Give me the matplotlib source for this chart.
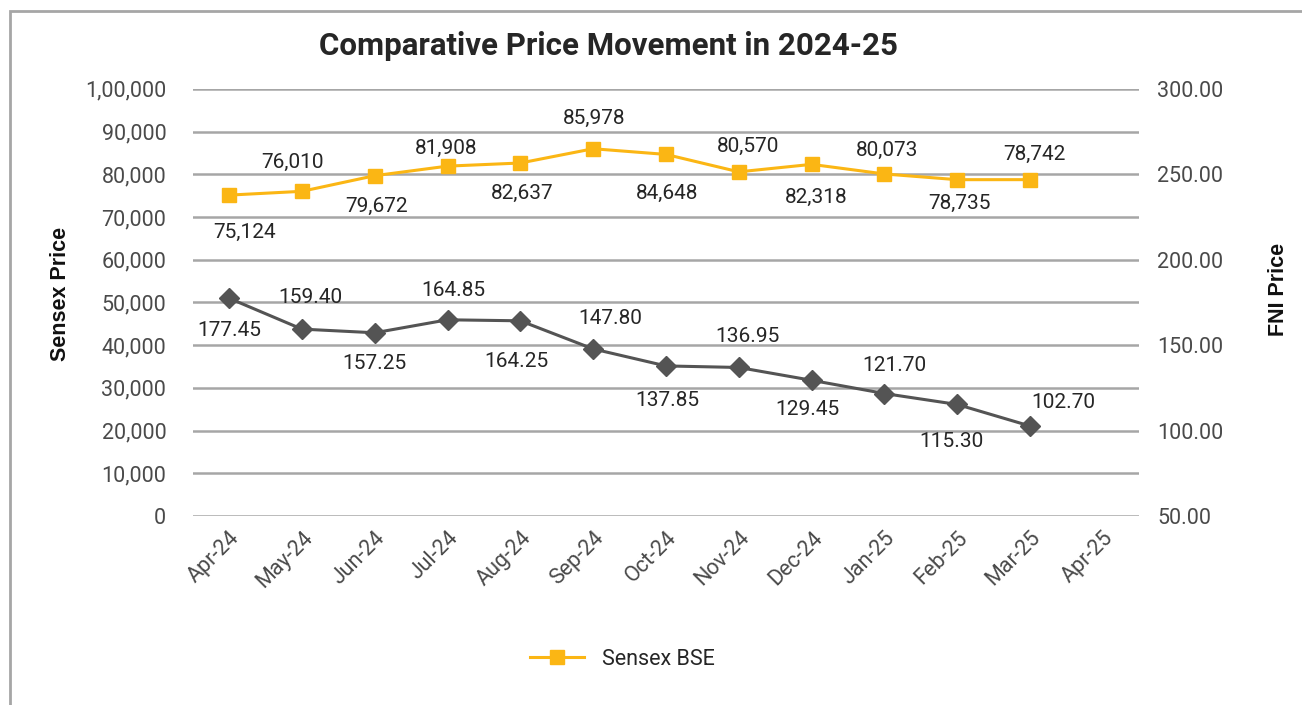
import matplotlib.pyplot as plt
from matplotlib.patches import Rectangle

months = ['Apr-24', 'May-24', 'Jun-24', 'Jul-24', 'Aug-24', 'Sep-24', 'Oct-24',
          'Nov-24', 'Dec-24', 'Jan-25', 'Feb-25', 'Mar-25', 'Apr-25']
sensex = [75124, 76010, 79672, 81908, 82637, 85978, 84648, 80570, 82318, 80073, 78735, 78742]
fni = [177.45, 159.40, 157.25, 164.85, 164.25, 147.80, 137.85, 136.95, 129.45, 121.70, 115.30, 102.70]

yellow = '#FBB614'
dark = '#545454'
txt = '#4a4a4a'

plt.rcParams['font.family'] = ['Roboto', 'DejaVu Sans']

fig = plt.figure(figsize=(13.02, 7.05), dpi=100)
fig.patches.append(Rectangle((10 / 1302, -0.1), 1.2, 1.1 - 11 / 705, transform=fig.transFigure,
                             fill=False, edgecolor='#A6A6A6', linewidth=2))

ax = fig.add_axes([0.148, 0.268, 0.727, 0.606])
ax2 = ax.twinx()

x = list(range(len(sensex)))
ax.plot(x, sensex, color=yellow, linewidth=2.2, marker='s', markersize=10, label='Sensex BSE', zorder=3)
ax2.plot(x, fni, color=dark, linewidth=2.2, marker='D', markersize=10, zorder=3)

ax.set_xlim(-0.5, len(months) - 0.5)
ax.set_ylim(0, 100000)
ax2.set_ylim(50, 300)
ax.set_yticks(range(0, 100001, 10000))
ax.set_yticklabels(['0', '10,000', '20,000', '30,000', '40,000', '50,000', '60,000',
                    '70,000', '80,000', '90,000', '1,00,000'])
ax2.set_yticks(range(50, 301, 50))
ax2.set_yticklabels(['50.00', '100.00', '150.00', '200.00', '250.00', '300.00'])
ax.set_xticks(range(len(months)))
ax.set_xticklabels(months, rotation=45, ha='right', rotation_mode='anchor')

for a in (ax, ax2):
    for s in a.spines.values():
        s.set_visible(False)
    a.tick_params(length=0, labelsize=15.5, labelcolor=txt)
ax.tick_params(axis='y', pad=19)
ax2.tick_params(axis='y', pad=13)
ax.tick_params(axis='x', pad=8)
ax.yaxis.grid(True, color='#A6A6A6', linewidth=1.8)
ax.set_axisbelow(True)

# label offsets in points (dx, dy)
s_off = [(11, -27), (-7, 21), (1, -22), (-1, 13), (1, -22), (1, 22),
         (1, -28), (7, 18), (3, -24), (2, 17), (2, -17), (3, 18)]
f_off = [(0, -23), (6, 23), (0, -22), (4, 21), (-3, -29), (12, 22),
         (1, -25), (6, 22), (-3, -21), (7, 20), (-4, -27), (24, 17)]
for i, v in enumerate(sensex):
    ax.annotate(f'{v:,}', (i, v), xytext=s_off[i], textcoords='offset points',
                ha='center', va='center', fontsize=15, color='#262626')
for i, v in enumerate(fni):
    ax2.annotate(f'{v:.2f}', (i, v), xytext=f_off[i], textcoords='offset points',
                 ha='center', va='center', fontsize=15, color='#262626')

ax.set_ylabel('Sensex Price', fontsize=15.5, fontweight='bold', family='Liberation Sans',
              color='#111111')
ax.yaxis.set_label_coords(-0.129, 0.52)
ax2.set_ylabel('FNI Price', fontsize=15.5, fontweight='bold', family='Liberation Sans',
               color='#111111', rotation=90)
ax2.yaxis.set_label_coords(1.136, 0.53)

fig.text(0.467, 0.935, 'Comparative Price Movement in 2024-25', ha='center', va='center',
         fontsize=22.5, fontweight='bold', color='#262626')

fig.legend(loc='center', bbox_to_anchor=(0.478, 0.065), frameon=False, fontsize=15.5,
           handlelength=2.5, labelcolor='#262626')

fig.savefig('out.png', dpi=100)
